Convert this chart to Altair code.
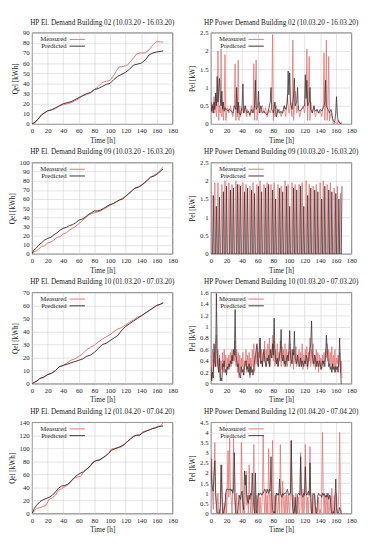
import altair as alt
import pandas as pd

MEAS_C = "#e07575"
PRED_C = "#3c3030"
FONT = "Liberation Serif"

HOURS = list(range(169))
X_TICKS = list(range(0, 181, 20))
SERIES = ["Measured", "Predicted"]

# ---------- Building 02 ----------
E02_MEAS = [(0,0),(3,1),(6,3),(9,6),(12,9),(16,11),(20,13),(25,14),(30,15),(35,18),(40,19),(45,20),(50,21),(55,23),(60,25),(65,28),(70,29),(75,31),(80,34),(85,37),(90,41),(95,42),(100,43),(104,47),(108,52),(111,56),(118,57),(122,58),(126,61),(130,65),(134,69),(138,70),(145,70),(150,73),(155,78),(159,81),(165,81),(168,80.5)]
E02_PRED = [(0,0),(4,2),(8,5),(12,9),(16,11),(20,13),(25,14),(30,16),(35,18),(40,20),(45,21),(50,22),(55,24),(60,26),(65,28),(70,30),(75,31),(80,34),(85,35),(90,37),(95,39),(100,40),(105,44),(110,47),(115,49),(120,51),(125,54),(130,58),(135,59),(140,60),(145,63),(150,68),(155,70),(160,71),(168,72)]

P02_MEAS = [0.7,0.3,0.55,0.4,0.75,0.3,0.8,0.2,0.4,2.0,0.1,0.5,0.3,2.05,0.2,0.6,0.1,0.55,1.9,0.1,0.3,0.45,0.4,0.3,
            0.35,0.5,0.4,0.3,0.2,0.35,0.45,1.65,0.1,0.8,0.2,1.75,0.1,0.5,0.2,0.4,0.45,0.35,0.3,0.4,0.5,0.3,0.2,0.4,
            0.35,0.3,0.2,0.4,0.5,0.4,0.3,1.65,0.1,0.9,1.75,0.1,0.4,0.5,0.6,0.4,0.3,0.45,0.5,0.4,0.3,0.35,0.45,0.3,
            0.2,0.3,0.4,0.35,0.3,0.4,0.5,2.45,0.1,0.6,0.2,0.35,0.5,0.4,0.3,0.35,0.4,0.3,0.2,0.3,0.35,0.4,0.5,0.3,
            0.2,0.5,0.8,0.5,0.3,0.4,0.6,0.4,0.2,2.3,0.1,0.5,0.9,0.6,0.3,0.4,0.5,0.3,0.2,0.3,0.4,0.45,0.5,0.4,
            0.3,0.5,0.6,2.05,0.1,0.8,1.85,0.1,0.6,0.4,0.3,0.4,0.5,0.3,0.2,0.3,0.4,0.35,0.3,0.3,0.35,0.3,0.2,0.35,
            0.5,1.95,0.1,0.6,2.3,0.1,0.5,1.85,0.1,0.2,0.3,0.2,0.1,0.0,0.0,0.05,0.05,0.0,0.0,0.1,0.1,0.0,0.0,0.05,
            0.05]
P02_PRED = [0.6,0.35,0.5,0.3,0.6,0.4,0.85,0.5,1.3,0.6,0.9,1.25,0.7,0.5,0.9,0.4,0.6,0.35,0.45,0.4,0.4,0.38,0.35,0.4,
            0.4,0.38,0.35,0.32,0.3,0.4,0.5,0.45,0.4,1.0,0.3,0.6,0.3,0.28,0.25,0.35,0.5,1.1,0.3,0.4,0.5,0.4,0.3,0.32,
            0.35,0.3,0.25,0.3,0.4,0.35,0.3,0.4,0.5,1.2,0.4,0.45,0.5,0.9,0.3,0.4,0.5,0.4,0.3,0.32,0.35,0.3,0.3,0.28,
            0.25,0.3,0.4,0.5,0.6,1.0,0.4,0.35,0.3,0.45,0.6,0.4,0.2,0.3,0.4,0.35,0.3,0.32,0.35,0.3,0.3,0.4,0.5,0.45,
            0.4,0.5,0.6,1.45,0.8,1.4,0.6,0.5,0.4,0.6,0.8,1.25,0.5,0.55,0.6,1.0,0.4,0.38,0.35,0.38,0.4,0.42,0.45,0.48,
            0.5,1.35,0.7,1.2,0.5,0.55,0.6,1.0,0.4,0.35,0.3,0.4,0.5,0.4,0.35,0.38,0.4,0.35,0.3,0.35,0.4,0.38,0.35,0.4,
            0.45,0.5,0.6,1.2,0.5,0.45,0.4,0.35,0.3,0.35,0.4,0.3,0.15,0.1,0.05,0.1,0.3,0.75,0.3,0.1,0.05,0.05,0.0,0.0,
            0.0]

# ---------- Building 09 ----------
E09_MEAS = [(0,0),(2,2),(5,3),(8,5),(12,8),(16,9),(20,12),(24,13),(28,15),(32,18),(36,19),(40,22),(44,23),(48,26),(52,28),(56,30),(60,33),(64,36),(68,39),(72,42),(76,44),(80,45),(84,46),(88,47),(92,49),(96,51),(100,53),(104,55),(108,57),(112,59),(116,61),(120,63),(124,66),(128,69),(132,72),(136,73),(140,75),(144,77),(148,80),(152,84),(156,86),(160,88),(164,91),(168,95)]
E09_PRED = [(0,0),(2,4),(5,6),(8,9),(12,12),(16,15),(20,17),(24,18),(28,21),(32,23),(36,26),(40,28),(44,29),(48,31),(52,32),(56,34),(60,37),(64,38),(68,40),(72,43),(76,45),(80,47),(84,47),(88,48),(92,50),(96,52),(100,54),(104,55),(108,57),(112,59),(116,60),(120,63),(124,66),(128,69),(132,72),(136,73),(140,75),(144,78),(148,81),(152,84),(156,85),(160,87),(164,90),(168,93)]

P09_MEAS = [1.9,0,0,0,0,1.95,0,0,0,1.95,0,0,0,0,1.9,0,0,0,2.0,0,0,0,0,1.95,
            0,0,0,1.9,0,0,0,0,2.0,0,0,0,1.9,0,0,0,0,1.95,0,0,0,1.9,0,0,
            0,0,1.85,0,0,0,1.95,0,0,0,0,1.9,0,0,0,2.0,0,0,0,0,1.9,0,0,0,
            1.95,0,0,0,0,1.9,0,0,0,1.95,0,0,0,0,1.9,0,0,0,1.85,0,0,0,0,2.0,
            0,0,0,1.9,0,0,0,0,1.95,0,0,0,1.9,0,0,0,0,1.9,0,0,0,1.95,0,0,
            0,0,2.0,0,0,0,1.9,0,0,0,0,1.85,0,0,0,1.9,0,0,0,0,1.95,0,0,0,
            2.0,0,0,0,0,1.9,0,0,0,1.95,0,0,0,0,1.8,0,0,0,1.85,0,0,0,1.65,0,
            0]
P09_PRED = [0,0,0,1.6,0,0,0,1.3,0,0,0,1.55,0,0,0,0,1.7,0,0,0,1.85,0,0,0,
            0,1.75,0,0,0,1.8,0,0,0,0,1.9,0,0,0,1.85,0,0,0,0,1.7,0,0,0,1.8,
            0,0,0,0,1.75,0,0,0,1.65,0,0,0,0,1.85,0,0,0,1.7,0,0,0,0,1.8,0,
            0,0,1.9,0,0,0,0,1.75,0,0,0,1.5,0,0,0,0,1.8,0,0,0,1.7,0,0,0,
            0,1.85,0,0,0,1.3,0,0,0,0,1.8,0,0,0,1.75,0,0,0,0,1.85,0,0,0,1.3,
            0,0,0,0,1.6,0,0,0,1.8,0,0,0,0,1.75,0,0,0,1.7,0,0,0,0,1.5,0,
            0,0,1.85,0,0,0,0,1.75,0,0,0,1.7,0,0,0,0,1.65,0,0,0,1.5,0,0,0,
            1.85]

# ---------- Building 10 ----------
E10_MEAS = [(0,0),(3,1),(6,2),(10,4),(15,5),(20,7),(25,8),(30,10),(35,13),(40,14),(45,16),(50,18),(55,19),(60,21),(65,23),(70,26),(75,28),(80,29.5),(85,32),(90,34),(95,36),(100,37.5),(105,40),(110,42),(115,43),(120,45),(125,47),(130,49),(135,51),(140,52),(145,54),(150,56),(155,58),(160,60),(165,61),(168,62)]
E10_PRED = [(0,0),(3,1),(6,2),(10,4),(15,5),(20,7),(25,8),(30,10),(35,13),(40,14),(45,15),(50,16),(55,17),(60,18),(65,19),(70,21),(75,22),(80,24),(85,27),(90,30),(95,31),(100,33),(105,35),(110,37),(115,41),(120,44),(125,46),(130,48),(135,50),(140,52),(145,54),(150,56),(155,58),(160,60),(165,61),(168,62)]

P10_MEAS = [0.5,0.1,0.6,0.2,0.55,0.3,0.7,0.85,0.3,0.6,0.2,0.5,0.1,0.4,0.25,0.55,0.2,0.6,0.3,0.5,0.2,0.45,0.3,0.5,
            0.25,0.55,0.3,0.6,0.35,0.5,0.4,0.75,0.3,0.6,0.2,0.55,0.1,0.5,0.2,0.45,0.3,0.55,0.15,0.4,0.3,0.6,0.2,0.5,
            0.3,0.55,0.1,0.45,0.25,0.6,0.3,0.7,0.2,0.5,0.35,0.65,0.3,0.55,0.45,0.8,0.35,0.6,0.3,0.55,0.4,0.75,0.3,0.6,
            0.4,0.7,0.35,0.8,0.3,0.6,0.45,0.85,0.4,0.75,0.3,0.6,0.35,0.7,0.3,0.55,0.4,0.75,0.3,0.65,0.4,0.6,0.3,0.7,
            0.35,0.6,0.3,0.55,0.4,0.7,0.3,0.6,0.35,0.55,0.25,0.6,0.35,0.65,0.3,0.5,0.4,0.6,0.3,0.55,0.35,0.7,0.25,0.5,
            0.35,0.6,0.3,0.65,0.25,0.55,0.4,0.8,0.3,0.6,0.35,0.7,0.3,0.5,0.25,0.6,0.3,0.55,0.2,0.5,0.3,0.45,0.25,0.5,
            0.3,0.55,0.4,0.6,0.45,0.7,0.4,0.6,0.35,0.55,0.3,0.65,0.25,0.5,0.3,0.6,0.2,0.45,0.35,0.5,0.3,0.55,0.2,0.4,
            0.1]
P10_PRED = [0.3,0.05,0.2,0.1,0.7,0.4,0.3,1.58,0.6,0.3,0.2,0.45,0.05,0.1,0.05,0.35,0.3,0.4,0.2,0.25,0.15,0.3,0.25,0.35,
            0.3,0.4,0.35,0.5,0.4,0.6,0.5,1.3,0.5,0.4,0.3,0.35,0.2,0.15,0.1,0.3,0.2,0.25,0.15,0.3,0.35,0.4,0.25,0.3,
            0.2,0.35,0.15,0.3,0.2,0.25,0.15,0.3,0.4,0.5,0.6,0.7,0.4,0.3,0.6,0.8,0.35,0.4,0.3,0.5,0.6,0.4,0.35,0.3,
            0.45,0.4,0.5,0.3,0.6,0.5,0.45,0.7,0.5,1.15,0.6,0.4,0.35,0.45,0.3,0.4,0.5,0.6,0.95,0.45,0.4,0.5,0.35,0.4,
            0.3,0.45,0.5,0.4,0.6,0.93,0.5,0.4,0.35,0.6,0.5,0.92,0.45,0.4,0.35,0.5,0.4,0.3,0.35,0.45,0.3,0.4,0.35,0.3,
            0.4,0.35,0.5,0.45,0.3,0.4,0.5,0.6,0.7,1.1,0.5,0.4,0.35,0.5,0.45,0.3,0.4,0.35,0.3,0.4,0.35,0.25,0.3,0.4,
            0.35,0.4,0.3,0.5,0.85,0.6,0.45,0.3,0.35,0.25,0.3,0.2,0.35,0.25,0.3,0.2,0.3,0.25,0.3,0.2,0.4,0.8,0.3,0.0,
            0.0]

# ---------- Building 12 ----------
E12_MEAS = [(0,0),(3,4),(6,8),(10,9),(15,11),(18,13),(22,22),(26,24),(30,28),(34,36),(38,38),(42,41),(46,44),(50,49),(54,54),(58,56),(62,57),(66,63),(70,68),(74,72),(78,79),(82,81),(86,82),(90,84),(94,88),(98,92),(102,99),(106,100),(110,101),(114,102),(118,105),(122,110),(126,114),(130,119),(134,120),(138,121),(142,125),(146,127),(150,128),(154,130),(158,132),(162,134),(165,134),(168,139)]
E12_PRED = [(0,0),(3,8),(6,13),(10,18),(14,21),(18,23),(22,25),(26,28),(30,33),(34,39),(38,42),(42,43),(46,45),(50,50),(54,55),(58,59),(62,62),(66,64),(70,68),(74,72),(78,78),(82,81),(86,82),(90,85),(94,88),(98,92),(102,97),(106,99),(110,101),(114,103),(118,106),(122,110),(126,114),(130,118),(134,120),(138,120),(142,124),(146,126),(150,128),(154,130),(158,131),(162,133),(166,134),(168,134)]

P12_MEAS = [1.5,2.7,1.0,0.2,2.0,3.5,1.2,0.0,0.4,1.0,0.0,0.2,0.0,1.5,2.4,0.3,0.0,0.5,0.0,1.0,0.0,1.2,3.1,0.8,
            3.7,1.0,0.8,0.0,1.2,3.7,1.1,0.2,0.0,1.0,0.0,0.0,0.0,0.9,0.0,3.5,1.2,0.0,0.3,0.0,0.8,2.1,0.4,0.9,
            0.0,2.4,0.8,0.0,0.9,0.0,1.0,3.4,0.3,0.0,0.9,0.0,0.0,1.0,0.0,0.8,0.0,0.2,0.9,3.85,0.9,0.0,1.0,0.0,
            0.9,0.0,3.2,1.0,0.0,1.0,0.0,3.6,1.0,0.0,0.9,0.0,1.0,0.0,0.2,0.9,0.0,3.4,1.0,0.0,1.6,0.5,0.0,0.9,
            0.0,1.0,0.0,0.9,0.3,0.0,1.0,3.6,1.0,0.0,0.9,0.0,0.0,1.0,0.0,0.0,0.8,0.0,0.2,3.0,0.5,0.0,1.2,0.0,
            0.4,3.4,1.0,0.0,0.8,0.0,1.0,3.3,0.2,0.0,1.0,0.0,0.0,0.9,0.0,0.3,0.0,0.0,0.8,0.0,0.2,0.0,1.0,4.0,
            0.9,0.0,0.9,0.0,1.0,0.0,0.8,0.0,0.2,0.9,0.0,1.25,0.0,0.0,0.9,0.0,0.0,1.0,0.0,0.2,1.0,4.0,0.5,0.0,
            0.0]
P12_PRED = [2.7,1.5,1.2,1.1,2.0,2.6,1.0,0.5,0.1,0.0,0.0,0.0,0.3,2.4,1.0,0.0,0.0,0.2,0.4,1.0,1.2,1.2,1.2,1.15,
            1.2,1.2,1.1,1.2,1.0,1.2,3.0,0.8,0.0,0.0,0.0,0.3,0.9,0.8,0.7,1.0,1.1,0.5,0.2,2.1,1.4,1.9,0.9,0.6,
            0.5,0.9,0.7,1.0,0.9,2.0,1.0,0.3,0.0,2.0,0.2,0.0,0.8,1.0,0.9,1.0,1.0,0.9,1.0,1.0,1.1,1.2,1.1,1.0,
            1.2,1.1,1.0,1.2,1.1,2.8,1.0,0.2,0.0,0.1,0.0,0.9,1.0,0.9,1.0,0.9,1.7,1.0,0.9,0.8,1.0,0.9,1.0,1.0,
            1.0,1.1,1.2,1.0,0.9,1.0,1.0,3.6,1.0,0.3,0.0,0.1,0.8,0.0,0.0,0.9,1.0,1.0,0.9,2.8,1.0,0.9,0.8,1.0,
            0.9,2.3,1.0,0.9,1.0,1.1,0.9,2.5,0.8,0.0,0.0,0.9,1.0,0.9,0.3,0.0,0.1,0.9,1.0,0.9,0.9,0.9,0.8,1.0,
            0.9,1.0,0.9,0.8,0.9,0.8,1.0,0.7,0.9,0.8,0.3,0.0,0.0,0.1,0.0,0.6,1.7,0.3,0.0,0.0,0.1,0.3,0.2,0.0,
            0.0]

PANEL_W = 146
PANEL_H = 95


def make_df(meas, pred):
    rows = [{"t": t, "v": v, "s": "Measured"} for t, v in meas]
    rows += [{"t": t, "v": v, "s": "Predicted"} for t, v in pred]
    return pd.DataFrame(rows)


def legend_layers():
    out = []
    for i, (name, col) in enumerate(zip(SERIES, [MEAS_C, PRED_C])):
        yy = 7 + 7 * i
        out.append(alt.Chart().mark_text(align="right", baseline="middle", font=FONT,
                                         fontSize=7, color="#222").encode(
            x=alt.value(36), y=alt.value(yy), text=alt.value(name)))
        out.append(alt.Chart().mark_rule(color=col, strokeWidth=1).encode(
            x=alt.value(39), x2=alt.value(55), y=alt.value(yy)))
    return out


def panel(title, df, ytitle, ymax, ystep, sw):
    n = int(round(ymax / ystep))
    yticks = [round(i * ystep, 3) for i in range(n + 1)]
    lines = alt.Chart(df).mark_line(strokeWidth=sw, clip=True).encode(
        x=alt.X("t:Q", scale=alt.Scale(domain=[0, 180], nice=False),
                axis=alt.Axis(values=X_TICKS, title="Time [h]", format="d")),
        y=alt.Y("v:Q", scale=alt.Scale(domain=[0, ymax], nice=False),
                axis=alt.Axis(values=yticks, title=ytitle, format="~r")),
        color=alt.Color("s:N",
                        scale=alt.Scale(domain=SERIES, range=[MEAS_C, PRED_C]),
                        legend=None),
    )
    return alt.layer(lines, *legend_layers()).properties(
        width=PANEL_W, height=PANEL_H,
        title=alt.TitleParams(title, fontSize=7.5, font=FONT, fontWeight="normal",
                              offset=3, color="#222"))


def energy(title, meas, pred, ymax, ystep):
    return panel(title, make_df(meas, pred), "Qel [kWh]", ymax, ystep, 1)


def power(title, meas, pred, ymax, ystep):
    return panel(title, make_df(list(zip(HOURS, meas)), list(zip(HOURS, pred))),
                 "Pel [kW]", ymax, ystep, 0.8)


rows = [
    (energy("HP El. Demand Building  02 (10.03.20 - 16.03.20)", E02_MEAS, E02_PRED, 90, 10),
     power("HP Power Demand  Building 02 (10.03.20 - 16.03.20)", P02_MEAS, P02_PRED, 2.5, 0.5)),
    (energy("HP El. Demand Building  09 (10.03.20 - 16.03.20)", E09_MEAS, E09_PRED, 100, 10),
     power("HP Power Demand  Building 09 (10.03.20 - 16.03.20)", P09_MEAS, P09_PRED, 2.5, 0.5)),
    (energy("HP El. Demand Building  10 (01.03.20 - 07.03.20)", E10_MEAS, E10_PRED, 70, 10),
     power("HP Power Demand  Building 10 (01.03.20 - 07.03.20)", P10_MEAS, P10_PRED, 1.6, 0.2)),
    (energy("HP El. Demand Building 12 (01.04.20 - 07.04.20)", E12_MEAS, E12_PRED, 140, 20),
     power("HP Power Demand  Building 12 (01.04.20 - 07.04.20)", P12_MEAS, P12_PRED, 4.5, 0.5)),
]

chart = alt.vconcat(
    *[alt.hconcat(l, r, spacing=10) for l, r in rows],
    spacing=4,
).properties(padding=0).configure(
    font=FONT
).configure_axis(
    labelFont=FONT, titleFont=FONT, labelFontSize=7, titleFontSize=7.5,
    titleFontWeight="normal", labelColor="#222", titleColor="#222",
    gridColor="#cfcfcf", gridWidth=0.6, domain=False, ticks=False,
    labelPadding=3, titlePadding=3, labelFlush=False,
).configure_view(
    stroke="#333", strokeWidth=0.8
)

chart.save("out.html", embed_options={"renderer": "svg", "actions": False})
